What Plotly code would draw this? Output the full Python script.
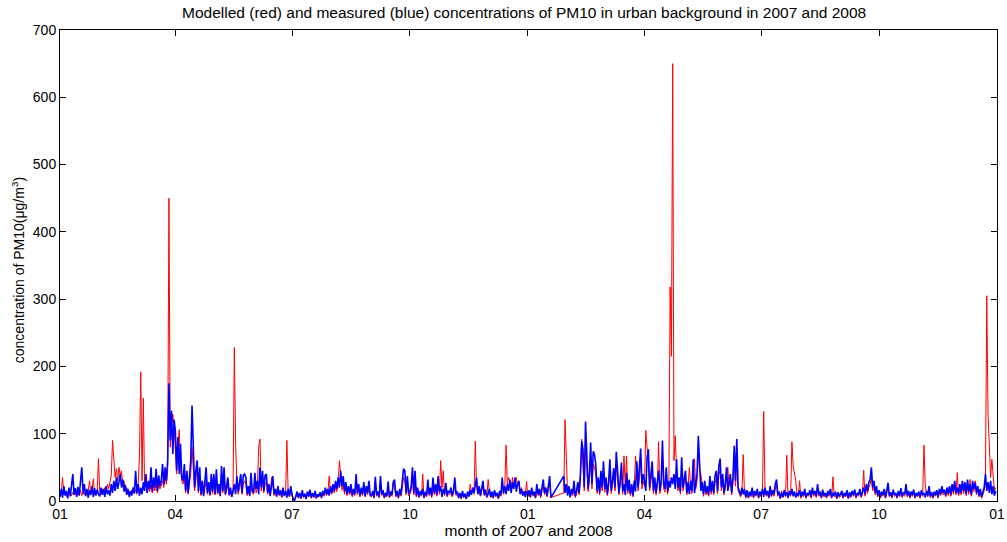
import datetime as dt
import plotly.graph_objects as go

# Daily PM10 concentrations (ug/m3), one row per month.
# None marks days with no data (the line is drawn straight across them).
blue_2007 = [
    [6,18,5,22,8,15,4,20,7,24,40,9,19,6,21,8,30,50,12,25,7,18,5,16,9,22,6,19,8,17,10],
    [7,20,9,18,6,22,10,16,8,25,12,30,15,35,18,28,40,20,32,14,24,9,18,6,15,8,20,11],
    [45,12,25,8,20,10,28,15,40,12,30,18,50,14,35,20,48,15,38,22,30,55,25,50,30,60,175,90,134,70,121],
    [104,45,95,40,85,35,30,55,15,45,12,35,60,142,74,20,45,60,15,50,10,30,8,25,50,12,28,9,40,14],
    [40,10,47,12,25,8,52,15,50,10,22,35,9,20,6,18,25,10,37,14,28,40,12,38,40,35,10,22,8,42,15],
    [12,42,18,30,10,50,20,45,15,38,40,12,25,8,20,37,10,18,7,22,9,16,6,20,8,15,5,18,7,22],
    [10,2,1,8,14,5,12,4,16,6,11,3,14,7,17,5,12,6,15,4,10,7,13,5,15,9,20,10,18,8,22],
    [12,25,15,30,18,35,20,45,22,37,14,28,10,22,12,25,8,18,10,40,12,25,8,20,10,28,7,22,12,30,9],
    [8,15,5,36,9,14,6,37,10,16,5,12,8,29,6,14,9,27,32,8,15,5,18,9,25,48,45,12,37,10],
    [14,22,50,12,45,8,20,6,15,9,18,5,14,8,32,10,20,7,35,12,25,9,37,14,22,6,18,10,27,8,15],
    [12,20,8,15,35,10,14,5,12,4,15,6,11,3,14,7,16,9,20,12,28,35,10,22,8,18,30,9,17,6],
    [10,18,6,14,5,16,8,12,4,15,9,35,12,22,10,25,15,32,12,28,18,35,14,25,30,10,18,8,14,6,15],
]
blue_2008 = [
    [8,16,6,20,9,14,5,25,10,18,7,22,32,12,20,8,27,37,5,
     None,None,None,None,None,None,None,None,None,37,12,25],
    [8,22,6,18,10,30,7,15,28,12,40,89,77,20,118,60,18,40,87,25,74,69,54,15,35,12,45,20,59],
    [18,35,10,28,62,15,30,49,20,73,45,12,30,57,14,25,9,42,15,32,10,25,8,30,14,59,20,45,78,25,40],
    [30,15,64,77,20,40,59,15,35,12,28,45,15,30,90,25,18,50,14,30,20,35,25,40,18,62,20,35,14,65],
    [20,35,45,12,28,10,30,15,62,12,25,40,97,60,15,28,10,30,12,22,9,37,14,30,12,37,45,15,52,63,20],
    [40,12,25,50,15,30,40,12,35,82,30,92,20,15,8,20,10,18,6,16,5,14,8,20,6,15,9,18,5,14],
    [8,18,6,20,9,15,5,22,8,16,10,25,32,9,14,4,12,6,16,8,13,5,15,9,18,7,14,5,12,8,16],
    [6,14,8,18,5,12,9,16,6,20,10,15,7,25,9,14,5,17,8,12,6,15,9,18,5,12,8,14,4,13,7],
    [10,15,5,12,8,16,4,13,7,15,9,17,6,12,9,18,7,14,20,10,25,15,28,32,50,20,30,12,22,8],
    [16,6,14,9,18,5,15,27,8,13,6,17,9,12,5,15,8,19,7,12,10,25,8,15,6,14,9,17,5,12,8],
    [14,6,16,9,12,5,15,8,22,7,13,5,14,9,16,6,18,10,22,12,17,8,20,11,22,9,25,14,30,12],
    [20,10,25,12,30,15,28,10,32,14,25,9,30,18,27,12,22,8,18,6,14,20,40,15,28,12,30,10,22,8,15],
]
red_2007 = [
    [8,12,35,9,14,7,12,10,15,8,13,9,14,7,12,10,16,8,13,9,15,11,14,30,10,16,33,9,14,12,63],
    [15,10,18,12,20,14,25,18,30,38,90,59,35,48,30,50,38,45,22,30,15,20,10,14,9,16,12,20],
    [15,10,25,67,192,30,153,20,30,12,20,14,25,12,22,15,28,12,25,18,22,30,20,35,25,45,450,80,110,129,111],
    [70,40,80,106,50,30,25,40,12,30,10,25,40,80,50,15,30,60,12,30,8,20,7,18,30,10,20,8,25,10],
    [25,9,30,10,18,7,30,12,35,9,15,25,8,14,6,12,228,87,25,10,20,28,10,25,30,25,8,15,7,30,12],
    [10,30,12,20,80,92,15,30,12,25,28,10,18,7,35,25,8,12,6,15,8,12,5,14,7,12,90,12,6,15],
    [8,2,1,6,10,4,9,3,11,5,8,3,10,6,12,4,9,5,11,4,8,6,10,4,11,7,14,8,13,37,15],
    [10,18,12,22,14,25,60,30,16,25,10,20,8,16,9,18,6,13,8,28,9,18,6,14,8,20,6,16,9,22,7],
    [6,11,4,25,7,10,5,26,8,12,4,9,6,20,5,10,7,30,22,6,11,4,13,7,18,35,32,9,26,8],
    [10,16,35,9,32,6,14,5,11,7,40,4,10,6,23,8,14,5,25,9,18,7,26,10,60,20,45,8,20,6,11],
    [9,14,6,11,25,8,10,4,9,3,11,5,8,3,10,6,25,12,18,10,89,20,12,18,7,14,22,8,13,5],
    [32,14,5,10,4,12,6,9,3,11,7,25,10,20,83,25,35,28,15,35,20,30,35,22,28,12,20,8,15,10,29],
]
red_2008 = [
    [6,12,5,15,7,10,4,18,8,13,5,16,24,9,15,6,20,27,5,
     None,None,None,None,None,None,None,None,None,12,121,74],
    [10,16,5,13,8,22,5,11,20,9,30,92,55,15,85,45,14,30,65,18,55,50,40,11,26,9,33,15,44],
    [13,26,8,20,45,11,22,36,15,54,33,9,22,42,10,67,20,67,11,24,8,18,6,22,67,44,15,33,58,18,30],
    [22,105,79,57,15,30,44,11,26,9,21,88,11,22,67,18,13,37,10,22,318,215,650,60,97,46,15,26,10,48],
    [15,26,33,9,21,50,22,11,46,63,18,30,72,45,40,21,7,22,9,16,7,27,10,22,9,27,33,11,38,47,15],
    [30,9,18,37,50,22,30,9,26,61,22,68,15,11,6,15,69,13,4,12,4,10,6,15,4,11,7,13,4,10],
    [6,13,133,15,7,11,4,16,6,12,7,18,24,7,10,3,15,5,12,6,68,4,11,7,88,52,40,30,9,6,30],
    [4,10,6,13,4,9,7,12,4,15,7,11,5,18,7,10,4,12,6,9,4,11,7,13,4,36,6,10,3,10,5],
    [7,11,4,9,6,12,3,10,5,11,7,13,4,9,7,13,5,10,46,7,18,11,20,24,37,15,22,9,16,6],
    [12,4,10,7,13,4,11,20,6,10,4,13,7,9,4,11,6,14,5,9,7,18,6,11,4,10,7,13,4,9,6],
    [10,4,12,7,83,25,11,6,16,5,10,4,10,7,12,4,13,8,16,9,13,6,15,8,16,7,18,10,22,9],
    [42,8,18,9,22,11,20,8,24,10,32,7,22,14,30,9,16,6,13,4,10,15,30,305,131,85,35,62,40,15,20],
]

quarter_ticks = ["2007-01-01", "2007-04-01", "2007-07-01", "2007-10-01",
                 "2008-01-01", "2008-04-01", "2008-07-01", "2008-10-01", "2009-01-01"]
quarter_labels = ["01", "04", "07", "10", "01", "04", "07", "10", "01"]


def daily_series(year, months):
    dates, values = [], []
    for m, row in enumerate(months, start=1):
        start = dt.date(year, m, 1)
        for i, v in enumerate(row):
            dates.append(start + dt.timedelta(days=i))
            values.append(v)
    return dates, values


rx1, ry1 = daily_series(2007, red_2007)
rx2, ry2 = daily_series(2008, red_2008)
bx1, by1 = daily_series(2007, blue_2007)
bx2, by2 = daily_series(2008, blue_2008)

fig = go.Figure()
fig.add_trace(go.Scatter(x=rx1 + rx2, y=ry1 + ry2, mode="lines", connectgaps=True,
                         line=dict(color="#ff0000", width=1), name="modelled"))
fig.add_trace(go.Scatter(x=bx1 + bx2, y=by1 + by2, mode="lines", connectgaps=True,
                         line=dict(color="#0000ff", width=1.6), name="measured"))

font = "Liberation Sans, Arial, sans-serif"
axis_common = dict(
    showline=True, linecolor="black", linewidth=1, mirror="ticks",
    ticks="inside", ticklen=6, tickcolor="black", tickwidth=1,
    showgrid=False, zeroline=False,
    tickfont=dict(family=font, size=14, color="black"),
)

fig.update_layout(
    template="none",
    width=1007, height=542,
    margin=dict(l=60, r=10, t=30, b=41),
    paper_bgcolor="white", plot_bgcolor="white",
    showlegend=False,
    title=dict(
        text="Modelled (red) and measured (blue) concentrations of PM10 in urban background in 2007 and 2008",
        x=0.5205, xanchor="center", y=1 - 13 / 542, yanchor="middle",
        font=dict(family=font, size=15.5, color="black"),
    ),
    xaxis=dict(
        axis_common,
        type="date", range=["2007-01-01", "2009-01-01"],
        tickvals=quarter_ticks, ticktext=quarter_labels,
        title=dict(text="month of 2007 and 2008", standoff=2,
                   font=dict(family=font, size=15.5, color="black")),
    ),
    yaxis=dict(
        axis_common,
        range=[0, 700], tickvals=[0, 100, 200, 300, 400, 500, 600, 700],
    ),
    annotations=[dict(
        text="concentration of PM10(\u03bcg/m<sup>3</sup>)",
        xref="paper", yref="paper", x=-0.0448, y=0.49,
        xanchor="center", yanchor="middle", textangle=-90, showarrow=False,
        font=dict(family=font, size=14, color="black"),
    )],
)

fig.write_html("out.html")
